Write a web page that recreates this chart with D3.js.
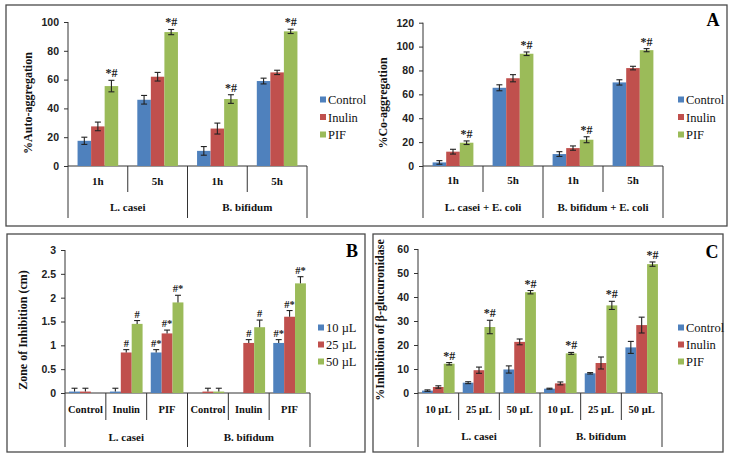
<!DOCTYPE html>
<html><head><meta charset="utf-8">
<script src="https://cdn.jsdelivr.net/npm/d3@7"></script>
<style>body{margin:0;background:#fff}svg{display:block}</style>
</head><body>
<svg id="c" width="733" height="456"></svg>
<script>
// ---------- DATA ----------
const colors = ["#4F81BD", "#C0504D", "#9BBB59"];

// Panel A (left): auto-aggregation
const autoSeries = ["Control", "Inulin", "PIF"];
const autoOuter = ["L. casei", "B. bifidum"];
const autoInner = ["1h", "5h"];
const autoTicks = [0, 20, 40, 60, 80, 100];
const autoValues = [[17.5, 46, 10.5, 59], [27.5, 62, 26, 65], [55.5, 93, 46.5, 93.5]];
const autoErrors = [[2.5, 3, 3, 2], [3, 3, 3.8, 1.5], [4, 1.8, 3, 1.5]];
const autoMarks = [["", "", "", ""], ["", "", "", ""], ["*#", "*#", "*#", "*#"]];

// Panel A (right): co-aggregation
const coSeries = ["Control", "Inulin", "PIF"];
const coOuter = ["L. casei + E. coli", "B. bifidum + E. coli"];
const coInner = ["1h", "5h"];
const coTicks = [0, 20, 40, 60, 80, 100, 120];
const coValues = [[3, 65.5, 10, 70], [12, 73.5, 15, 82], [19.5, 94, 22, 97]];
const coErrors = [[1.5, 2.5, 2, 2.2], [2, 3, 1.8, 1.5], [1.5, 1.5, 2.5, 1.3]];
const coMarks = [["", "", "", ""], ["", "", "", ""], ["*#", "*#", "*#", "*#"]];

// Panel B: zone of inhibition
const zoneSeries = ["10 \u00B5L", "25  \u00B5L", "50  \u00B5L"];
const zoneOuter = ["L. casei", "B. bifidum"];
const zoneInner = ["Control", "Inulin", "PIF", "Control", "Inulin", "PIF"];
const zoneInnerPer = 3;
const zoneTicks = [0, 0.5, 1, 1.5, 2, 2.5, 3];
const zoneValues = [[0.03, 0.03, 0.85, null, null, 1.05], [0.03, 0.85, 1.25, 0.03, 1.05, 1.6], [null, 1.45, 1.9, 0.03, 1.38, 2.3]];
const zoneErrors = [[0.07, 0.07, 0.06, 0, 0, 0.07], [0.07, 0.06, 0.07, 0.07, 0.07, 0.13], [0, 0.07, 0.15, 0.07, 0.15, 0.14]];
const zoneMarks = [["", "", "#*", "", "", "#*"], ["", "#", "#*", "", "#", "#*"], ["", "#", "#*", "", "#", "#*"]];

// Panel C: beta-glucuronidase inhibition
const glucSeries = ["Control", "Inulin", "PIF"];
const glucOuter = ["L. casei", "B. bifidum"];
const glucInner = ["10 \u00B5L", "25 \u00B5L", "50 \u00B5L", "10 \u00B5L", "25 \u00B5L", "50 \u00B5L"];
const glucInnerPer = 3;
const glucTicks = [0, 10, 20, 30, 40, 50, 60];
const glucValues = [[1, 4.3, 9.8, 1.8, 8.2, 19], [2.5, 9.5, 21.3, 4, 12.5, 28.3], [12.2, 27.5, 42, 16.5, 36.5, 53.7]];
const glucErrors = [[0.3, 0.4, 1.5, 0.2, 0.3, 2.5], [0.5, 1.3, 1.2, 0.6, 2.5, 3.3], [0.5, 2.8, 0.7, 0.4, 1.7, 0.9]];
const glucMarks = [["", "", "", "", "", ""], ["", "", "", "", "", ""], ["*#", "*#", "*#", "*#", "*#", "*#"]];

// ---------- DRAW ----------
const svg = d3.select("#c");
const serif = "'Liberation Serif','Times New Roman',serif";
const sans = "'Liberation Sans',Arial,sans-serif";

// panel frames
[[6, 5, 721, 221], [7, 234, 358, 218], [373, 234, 350, 218]].forEach(b => {
  svg.append("rect").attr("x", b[0]).attr("y", b[1]).attr("width", b[2]).attr("height", b[3])
    .attr("fill", "none").attr("stroke", "#4a4a4a").attr("stroke-width", 1.3);
});
[["A", 713, 26], ["B", 352, 257], ["C", 712, 258]].forEach(t => {
  svg.append("text").attr("x", t[1]).attr("y", t[2]).attr("text-anchor", "middle")
    .attr("font-family", serif).attr("font-weight", "bold").attr("font-size", 18).text(t[0]);
});

function drawPanel(c) {
  const g = svg.append("g");
  const y = d3.scaleLinear().domain([c.ticks[0], c.ticks[c.ticks.length - 1]]).range([c.y0, c.yTop]);
  const nG = c.outer.length * c.innerPer;
  const groupIdx = d3.range(nG);
  const xg = d3.scaleBand().domain(groupIdx).range([c.x0, c.x1]).padding(0);
  const bw = xg.bandwidth();
  const xs = d3.scaleBand().domain(d3.range(c.series.length)).range([bw * c.pad, bw * (1 - c.pad)]).padding(0);

  // y axis
  const ax = d3.axisLeft(y).tickValues(c.ticks).tickSize(4).tickPadding(5).tickFormat(d3.format(c.fmt));
  const axG = g.append("g").attr("transform", `translate(${c.x0},0)`).call(ax);
  axG.select(".domain").remove();
  axG.selectAll("line").attr("stroke", "#333");
  axG.selectAll("text").attr("font-family", sans).attr("font-weight", "bold").attr("font-size", 10.5).attr("fill", "#222");
  g.append("line").attr("x1", c.x0).attr("x2", c.x0).attr("y1", c.yTop).attr("y2", c.majorBottom).attr("stroke", "#333");
  // x axis baseline
  g.append("line").attr("x1", c.x0).attr("x2", c.x1).attr("y1", c.y0).attr("y2", c.y0).attr("stroke", "#333");
  // category dividers
  for (let k = 1; k <= nG; k++) {
    const xx = k < nG ? xg(k) : c.x1;
    const major = k % c.innerPer === 0;
    g.append("line").attr("x1", xx).attr("x2", xx).attr("y1", c.y0).attr("y2", major ? c.majorBottom : c.minorBottom).attr("stroke", "#333");
  }
  // bars
  c.series.forEach((s, si) => {
    groupIdx.forEach(gi => {
      const v = c.values[si][gi];
      if (v === null) return;
      const bx = xg(gi) + xs(si);
      g.append("rect").attr("x", bx).attr("y", y(v)).attr("width", xs.bandwidth()).attr("height", y(0) - y(v)).attr("fill", colors[si]);
    });
  });
  // error bars + marks
  c.series.forEach((s, si) => {
    groupIdx.forEach(gi => {
      const v = c.values[si][gi];
      if (v === null) return;
      const e = c.errors[si][gi];
      const cx = xg(gi) + xs(si) + xs.bandwidth() / 2;
      const top = y(v + e), bot = c.oneSided ? y(v) : y(v - e);
      g.append("line").attr("x1", cx).attr("x2", cx).attr("y1", top).attr("y2", bot).attr("stroke", "#222").attr("stroke-width", 1.1);
      g.append("line").attr("x1", cx - 3).attr("x2", cx + 3).attr("y1", top).attr("y2", top).attr("stroke", "#222").attr("stroke-width", 1.1);
      if (!c.oneSided) g.append("line").attr("x1", cx - 3).attr("x2", cx + 3).attr("y1", bot).attr("y2", bot).attr("stroke", "#222").attr("stroke-width", 1.1);
      const m = c.marks[si][gi];
      if (m) g.append("text").attr("x", cx).attr("y", top - 3).attr("text-anchor", "middle")
        .attr("font-family", serif).attr("font-weight", "bold").attr("font-size", c.markSize).attr("fill", "#222").text(m);
    });
  });
  // category labels
  c.inner.forEach((lab, gi) => {
    g.append("text").attr("x", xg(gi) + bw / 2).attr("y", c.lab1Y).attr("text-anchor", "middle")
      .attr("font-family", serif).attr("font-weight", "bold").attr("font-size", c.lab1Size).attr("fill", "#111").text(lab);
  });
  c.outer.forEach((lab, oi) => {
    const a = xg(oi * c.innerPer), b = oi * c.innerPer + c.innerPer < nG ? xg(oi * c.innerPer + c.innerPer) : c.x1;
    g.append("text").attr("x", (a + b) / 2).attr("y", c.lab2Y).attr("text-anchor", "middle")
      .attr("font-family", serif).attr("font-weight", "bold").attr("font-size", 11).attr("fill", "#111").text(lab);
  });
  // y label
  g.append("text").attr("transform", `translate(${c.ylx},${c.yly}) rotate(-90)`).attr("text-anchor", "middle")
    .attr("font-family", serif).attr("font-weight", "bold").attr("font-size", 12).attr("fill", "#111").text(c.ylabel);
  // legend
  c.series.forEach((s, si) => {
    const ly = c.legY + si * c.legStep;
    g.append("rect").attr("x", c.legX).attr("y", ly - 3.5).attr("width", 6).attr("height", 6).attr("fill", colors[si]);
    g.append("text").attr("x", c.legX + 8).attr("y", ly + 4).attr("font-family", serif).attr("font-size", 12.5).attr("fill", "#111").text(s);
  });
}

drawPanel({ x0: 68, x1: 307, y0: 166, yTop: 22, ticks: autoTicks, fmt: "d", outer: autoOuter, inner: autoInner.concat(autoInner), innerPer: 2,
  series: autoSeries, values: autoValues, errors: autoErrors, marks: autoMarks, pad: 0.16, oneSided: false, markSize: 12,
  minorBottom: 192, majorBottom: 218, lab1Y: 185, lab2Y: 211, lab1Size: 11,
  ylabel: "%Auto-aggregation", ylx: 32, yly: 103, legX: 320, legY: 100, legStep: 17.5 });

drawPanel({ x0: 423, x1: 663, y0: 166, yTop: 22.7, ticks: coTicks, fmt: "d", outer: coOuter, inner: coInner.concat(coInner), innerPer: 2,
  series: coSeries, values: coValues, errors: coErrors, marks: coMarks, pad: 0.16, oneSided: false, markSize: 12,
  minorBottom: 192, majorBottom: 218, lab1Y: 184, lab2Y: 211, lab1Size: 11,
  ylabel: "%Co-aggregation", ylx: 387, yly: 103, legX: 678, legY: 100, legStep: 17.5 });

drawPanel({ x0: 65, x1: 310, y0: 393, yTop: 250, ticks: zoneTicks, fmt: "", outer: zoneOuter, inner: zoneInner, innerPer: zoneInnerPer,
  series: zoneSeries, values: zoneValues, errors: zoneErrors, marks: zoneMarks, pad: 0.1, oneSided: true, markSize: 10.5,
  minorBottom: 420, majorBottom: 447, lab1Y: 413, lab2Y: 441, lab1Size: 10.5,
  ylabel: "Zone of Inhibition (cm)", ylx: 27, yly: 330, legX: 318, legY: 328, legStep: 17 });

drawPanel({ x0: 418, x1: 662, y0: 393, yTop: 249, ticks: glucTicks, fmt: "d", outer: glucOuter, inner: glucInner, innerPer: glucInnerPer,
  series: glucSeries, values: glucValues, errors: glucErrors, marks: glucMarks, pad: 0.1, oneSided: false, markSize: 12,
  minorBottom: 420, majorBottom: 447, lab1Y: 413, lab2Y: 440, lab1Size: 10.5,
  ylabel: "%Inhibition of \u03B2-glucuronidase", ylx: 384, yly: 320, legX: 678, legY: 328, legStep: 17 });
</script>
</body></html>
